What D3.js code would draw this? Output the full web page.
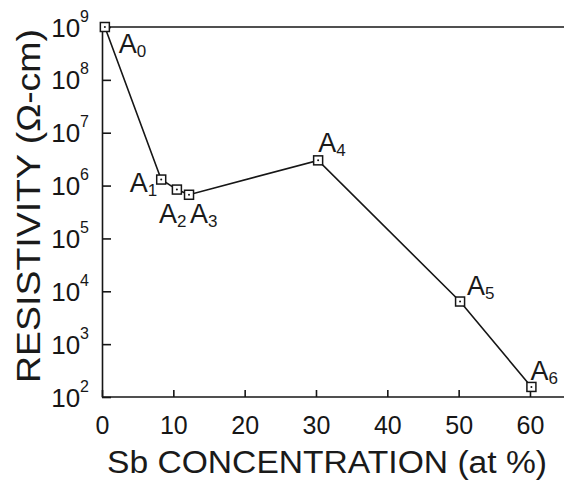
<!DOCTYPE html>
<html>
<head>
<meta charset="utf-8">
<script src="https://cdn.jsdelivr.net/npm/d3@7"></script>
<style>
  body { margin: 0; background: #fff; }
  text { font-family: "Liberation Sans", Arial, sans-serif; fill: #1a1a1a; }
</style>
</head>
<body>
<svg id="chart" width="564" height="484"></svg>
<script>
// samples A0..A6
var sampleIds = ["0", "1", "2", "3", "4", "5", "6"];
var sbConcentration = [0.4, 8.3, 10.5, 12.2, 30.3, 50.2, 60.2];   // at %
var resistivity = [1e9, 1.3e6, 8.4e5, 6.7e5, 3.0e6, 6.4e3, 155];  // ohm-cm
var xTicks = [0, 10, 20, 30, 40, 50, 60];
var yExponents = [2, 3, 4, 5, 6, 7, 8, 9];

// label placement relative to the point (dx, dy, anchor)
var labelOffsets = [
  [14, 26, "start"], [-4, 12, "end"], [-18, 33, "start"], [1, 28, "start"],
  [0, -8, "start"], [7, -7, "start"], [-1, -7, "start"]
];

var ink = "#161616";
var svg = d3.select("#chart");

var x = d3.scaleLinear().domain([0, 65]).range([102, 102 + 65 * 7.133]);
var y = d3.scaleLog().domain([1e2, 1e9]).range([397, 27]);

var points = sbConcentration.map(function(v, i) {
  return { x: v, y: resistivity[i], id: sampleIds[i], off: labelOffsets[i] };
});

// top frame line
svg.append("line")
  .attr("x1", x(0)).attr("x2", 564)
  .attr("y1", y(1e9)).attr("y2", y(1e9))
  .style("stroke", ink).style("stroke-width", 1.6);

// y axis
var yAxis = svg.append("g")
  .attr("transform", "translate(" + x(0) + ",0)")
  .call(d3.axisLeft(y)
    .tickValues(yExponents.map(function(e) { return Math.pow(10, e); }))
    .tickSizeInner(-9).tickSizeOuter(0).tickPadding(13)
    .tickFormat(""));
yAxis.selectAll(".tick text").each(function(d) {
  var t = d3.select(this).attr("dy", null).attr("y", 9).style("font-size", "26px");
  t.append("tspan").text("10");
  t.append("tspan").attr("dy", -15).style("font-size", "16px").text(Math.round(Math.log10(d)));
});

// x axis
var xAxis = svg.append("g")
  .attr("transform", "translate(0," + y(1e2) + ")")
  .call(d3.axisBottom(x)
    .tickValues(xTicks)
    .tickSizeInner(-7).tickSizeOuter(0).tickPadding(19));
xAxis.selectAll(".tick text").style("font-size", "25px");
xAxis.select(".domain").attr("d", "M" + x(0) + ",0H564");

svg.selectAll(".domain, .tick line").style("stroke", ink).style("stroke-width", 1.6);
svg.selectAll(".tick text").style("fill", ink).attr("font-family", null);

// data line
var line = d3.line().x(function(d) { return x(d.x); }).y(function(d) { return y(d.y); });
svg.append("path")
  .datum(points)
  .attr("d", line)
  .style("fill", "none").style("stroke", ink).style("stroke-width", 1.6);

// square markers with a centre dot
var marks = svg.selectAll(".mark").data(points).enter().append("g")
  .attr("class", "mark")
  .attr("transform", function(d) { return "translate(" + x(d.x) + "," + y(d.y) + ")"; });
marks.append("rect")
  .attr("x", -4.5).attr("y", -4.5).attr("width", 9).attr("height", 9)
  .style("fill", "#fff").style("stroke", ink).style("stroke-width", 1.5);
marks.append("circle").attr("r", 1).style("fill", ink);

// sample labels
var labels = svg.selectAll(".lab").data(points).enter().append("text")
  .attr("class", "lab")
  .attr("x", function(d) { return x(d.x) + d.off[0]; })
  .attr("y", function(d) { return y(d.y) + d.off[1]; })
  .attr("text-anchor", function(d) { return d.off[2]; })
  .style("font-size", "27px");
labels.append("tspan").text("A");
labels.append("tspan").attr("dy", 4).style("font-size", "17px").text(function(d) { return d.id; });

// axis titles
svg.append("text")
  .attr("x", 107).attr("y", 473)
  .attr("textLength", 440).attr("lengthAdjust", "spacingAndGlyphs")
  .style("font-size", "31px")
  .text("Sb CONCENTRATION (at %)");

svg.append("text")
  .attr("transform", "translate(40,383) rotate(-90)")
  .attr("textLength", 354).attr("lengthAdjust", "spacingAndGlyphs")
  .style("font-size", "33px")
  .text("RESISTIVITY (\u03A9-cm)");
</script>
</body>
</html>
